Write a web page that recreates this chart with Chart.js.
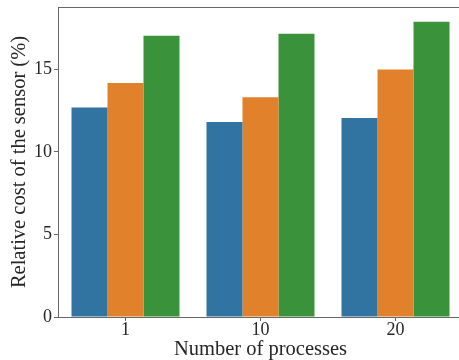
<!DOCTYPE html>
<html>
<head>
<meta charset="utf-8">
<script src="https://cdn.jsdelivr.net/npm/chart.js@4/dist/chart.umd.min.js"></script>
<style>
  html, body { margin: 0; padding: 0; overflow: hidden; background: #ffffff; }
  #wrap { width: 464px; height: 360px; }
</style>
</head>
<body>
<div id="wrap"><canvas id="c" width="464" height="360"></canvas></div>
<script>
// Number of processes on the x axis
const categories = ['1', '10', '20'];

// Relative cost of the sensor (%) for each configuration
const seriesBlue   = [12.69, 11.81, 12.05];
const seriesOrange = [14.17, 13.32, 15.00];
const seriesGreen  = [17.04, 17.16, 17.89];

// Y axis range and tick spacing
const yMin = 0;
const yMax = 18.78;
const yStep = 5;

const SERIF = "'Liberation Serif', 'DejaVu Serif', serif";
const SPINE = '#666666';

// Draw the top and right spines so the plot area is boxed in
const frame = {
  id: 'frame',
  afterDraw(chart) {
    const { ctx, chartArea: a } = chart;
    ctx.save();
    ctx.strokeStyle = SPINE;
    ctx.lineWidth = 1;
    ctx.beginPath();
    ctx.moveTo(Math.round(a.left) + 0.5, Math.round(a.top) + 0.5);
    ctx.lineTo(Math.round(a.right) + 0.5, Math.round(a.top) + 0.5);
    ctx.lineTo(Math.round(a.right) + 0.5, Math.round(a.bottom) + 0.5);
    ctx.stroke();
    ctx.restore();
  }
};

new Chart(document.getElementById('c'), {
  type: 'bar',
  data: {
    labels: categories,
    datasets: [
      { label: 'blue', data: seriesBlue, backgroundColor: '#3274a1' },
      { label: 'orange', data: seriesOrange, backgroundColor: '#e1812c' },
      { label: 'green', data: seriesGreen, backgroundColor: '#3a923a' }
    ]
  },
  options: {
    responsive: false,
    animation: false,
    devicePixelRatio: 1,
    layout: { padding: { left: 0, top: 7, right: 1, bottom: 0 } },
    datasets: { bar: { categoryPercentage: 0.8, barPercentage: 1.0, borderWidth: 0 } },
    plugins: { legend: { display: false }, tooltip: { enabled: false } },
    scales: {
      x: {
        offset: true,
        grid: { display: true, offset: false, drawOnChartArea: false, drawTicks: true, tickLength: 4, color: SPINE, lineWidth: 1 },
        border: { display: true, color: SPINE, width: 1 },
        ticks: { color: '#262626', padding: 0, font: { family: SERIF, size: 18, lineHeight: 1 }, maxRotation: 0 },
        title: { display: true, text: 'Number of processes', color: '#262626', padding: { top: 0, bottom: 0 }, font: { family: SERIF, size: 20.5, lineHeight: 1 } },
        afterFit(scale) {
          scale.height = 43;
          scale.paddingLeft = 0; scale.paddingRight = 0;
        }
      },
      y: {
        min: yMin,
        max: yMax,
        grid: { display: true, drawOnChartArea: false, drawTicks: true, tickLength: 4, color: SPINE, lineWidth: 1 },
        border: { display: true, color: SPINE, width: 1 },
        ticks: { stepSize: yStep, includeBounds: false, color: '#262626', padding: 2, font: { family: SERIF, size: 18, lineHeight: 1 } },
        title: { display: true, text: 'Relative cost of the sensor (%)', color: '#262626', padding: { top: 9.5, bottom: 0 }, font: { family: SERIF, size: 20.5, lineHeight: 1 } },
        afterFit(scale) {
          scale.width = 58;
          scale.paddingTop = 0; scale.paddingBottom = 0;
        }
      }
    }
  },
  plugins: [frame]
});
</script>
</body>
</html>
